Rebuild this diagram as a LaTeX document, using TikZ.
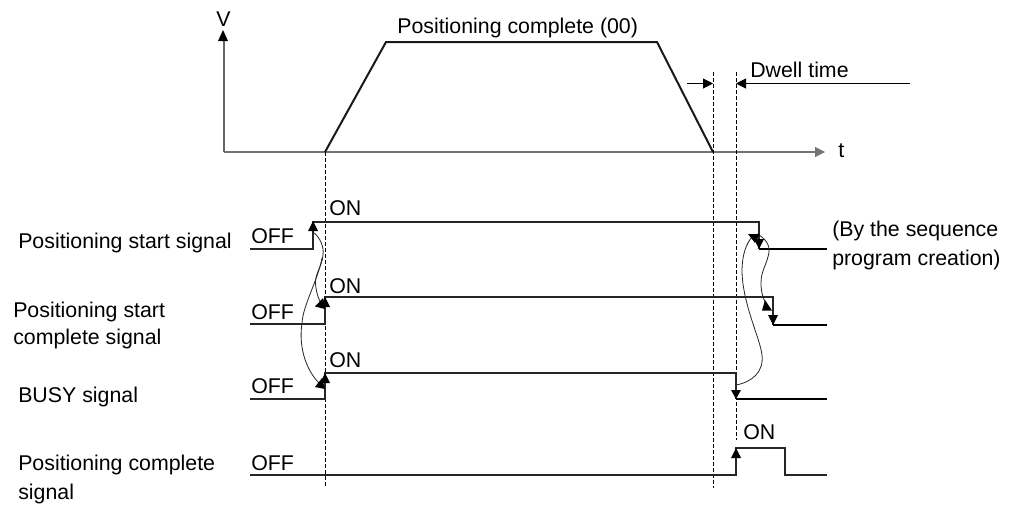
\documentclass[tikz,border=0pt]{standalone}
\usepackage{fontspec}
\setmainfont{Liberation Sans}
\usetikzlibrary{arrows.meta}
\tikzset{
  px/.style={x=0.75pt,y=-0.75pt},
  lbl/.style={inner sep=0pt,anchor=base west,font=\fontsize{16}{18}\selectfont,text=black},
  sig/.style={draw=black!85,line width=0.95pt,line join=miter},
  sigend/.style={draw=black,line width=1.5pt},
  guide/.style={draw=black,line width=0.6pt,dash pattern=on 3pt off 1.5pt},
  thin curve/.style={draw=black!85,line width=0.6pt},
  headtip/.style={-{Triangle[length=7.5pt,width=7.5pt]}}
}
\begin{document}
\begin{tikzpicture}[px]
\useasboundingbox (0,0) rectangle (1013,504);
% named coordinates
\coordinate (o) at (224,152);
\coordinate (tt) at (825,152);
\coordinate (r1) at (325,152);
\coordinate (r2) at (386,42);
\coordinate (r3) at (657,42);
\coordinate (r4) at (713,152);
\coordinate (dA) at (713,72);
\coordinate (dB) at (736,72);
\coordinate (dl) at (687,83.5);
\coordinate (dr) at (910,83.5);
\coordinate (dAm) at (713,83.5);
\coordinate (dBm) at (736,83.5);
% axes
\draw[draw=black!55,line width=0.8pt,headtip] (o) -- (tt);
\draw[draw=black!60,line width=0.8pt] (o) -- (224,40);
\fill (223,30) -- (218,41) -- (228,41) -- cycle;
\draw[line width=1.5pt,line join=miter,draw=black!90] (r1) -- (r2) -- (r3) -- (r4);
% guides
\draw[guide] (325,152) -- (325,488);
\draw[guide] (dA) -- (713,488);
\draw[guide] (dB) -- (736,440);
% dwell
\draw[line width=0.75pt,headtip] (dl) -- (dAm);
\draw[line width=0.75pt,headtip] (dr) -- (dBm);
% signals
\draw[sig] (250,249) -- (313,249) -- (313,222) -- (759,222) -- (759,249);
\draw[sigend] (759,249) -- (827,249);
\draw[sig] (250,324) -- (325,324) -- (325,297) -- (773,297) -- (773,325);
\draw[sigend] (773,325) -- (827,325);
\draw[sig] (250,399) -- (325,399) -- (325,373) -- (736,373) -- (736,399);
\draw[sigend] (736,399) -- (827,399);
\draw[sig] (250,475) -- (736,475) -- (736,448) -- (785,448) -- (785,475) -- (827,475);
% arrow heads on signal edges
\fill (313,221) -- (308,231) -- (318,231) -- cycle;
\fill (325,297) -- (320,307) -- (330,307) -- cycle;
\fill (325,373) -- (320,383) -- (330,383) -- cycle;
\fill (736,448) -- (731,458) -- (741,458) -- cycle;
\fill (759,249) -- (754,239) -- (764,239) -- cycle;
\fill (773,325) -- (768,315) -- (778,315) -- cycle;
\fill (736,399) -- (731,390) -- (741,390) -- cycle;
% curved links
\draw[thin curve] (313,232) .. controls (321,238) and (324,248) .. (323,255) .. controls (322,268) and (313,275) .. (316,288) .. controls (317,295) and (319,300) .. (321,303);
\draw[thin curve] (322,258) .. controls (318,280) and (303,305) .. (302,323) .. controls (298,350) and (308,372) .. (319,383);
\draw[thin curve] (736,385) .. controls (752,382) and (764,372) .. (762,355) .. controls (760,338) and (743,305) .. (742,272) .. controls (742,255) and (746,243) .. (753,236);
\draw[thin curve] (757,234) .. controls (765,238) and (770,245) .. (769,252) .. controls (767,265) and (761,270) .. (761,283) .. controls (761,292) and (763,298) .. (766,304);
% curve heads
\fill (315,306.5) -- (325,309) -- (323,298) -- cycle;
\fill (315,387) -- (325,389) -- (322,378) -- cycle;
\fill (748,234) -- (760,234) -- (755,243) -- cycle;
\fill (762,310.5) -- (772,310.5) -- (765,300) -- cycle;
% text
\node[lbl] (v) at (216,26) {V};
\node[lbl] (pc) at (397,33) {Positioning complete (00)};
\node[lbl] (dw) at (750,77) {Dwell time};
\node[lbl] (t) at (838,157) {t};
\node[lbl] (a1) at (18,248) {Positioning start signal};
\node[lbl] (a2) at (13,317) {Positioning start};
\node[lbl] (a3) at (13,344) {complete signal};
\node[lbl] (a4) at (18,402) {BUSY signal};
\node[lbl] (a5) at (18,470) {Positioning complete};
\node[lbl] (a6) at (18,499) {signal};
\node[lbl] (o1) at (251,243) {OFF};
\node[lbl] (o2) at (251,319) {OFF};
\node[lbl] (o3) at (251,393) {OFF};
\node[lbl] (o4) at (251,470) {OFF};
\node[lbl] (n1) at (329,215) {ON};
\node[lbl] (n2) at (329,293) {ON};
\node[lbl] (n3) at (329,367) {ON};
\node[lbl] (n4) at (743,439) {ON};
\node[lbl] (b1) at (832,236) {(By the sequence};
\node[lbl] (b2) at (832,265) {program creation)};
\end{tikzpicture}
\end{document}
